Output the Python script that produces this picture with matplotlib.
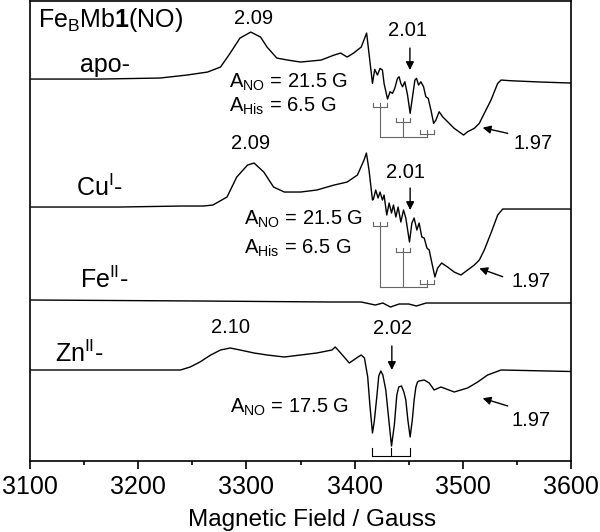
#!/usr/bin/env python3

# EPR spectra of FeBMb1(NO) derivatives

import matplotlib as mpl
mpl.use("Agg")

import matplotlib.pyplot as plt             # noqa
from matplotlib.ticker import MultipleLocator  # noqa

plt.rcParams['font.family'] = ['Liberation Sans', 'DejaVu Sans']
plt.rcParams['mathtext.fontset'] = 'custom'
plt.rcParams['mathtext.rm'] = 'Liberation Sans'
plt.rcParams['mathtext.bf'] = 'Liberation Sans:bold'

# field in Gauss, intensity in arbitrary units (relative to each baseline)
apo_field = [3101, 3165, 3220, 3245, 3264, 3276, 3285, 3294, 3304, 3313, 3319, 3328,
             3338, 3350, 3369, 3381, 3387, 3393, 3399, 3406, 3411, 3416.4,
             3418.5, 3421, 3423.4, 3425.6, 3427.1, 3430.3, 3432.7, 3434.9, 3437,
             3439.5, 3441, 3442.6, 3444.2, 3446.3, 3448.8, 3451.2, 3453.4, 3455.6,
             3457.1, 3459, 3461.1, 3463.6, 3465.7, 3467.9, 3470.4, 3472.9, 3475,
             3478, 3481.2, 3485.8, 3491.9, 3500.6, 3504.3, 3510.5, 3515.1, 3519.7,
             3525.9, 3532.1, 3535.2, 3544.4, 3572.2, 3600]
apo_int = [0, 0, 1, 4, 7, 12, 26, 41, 47, 42, 32, 21,
           19, 17, 19, 24, 26, 22, 26, 32, 46, -4.3,
           9.7, 4, 10.7, 9, -4.3, -20, -12.7, -14.3, -9.3,
           0.7, 2.3, -4.3, -7.7, -2.7, -16, -34.3, -17.7, -1,
           0.7, -6, -2.7, -7.7, -17.7, -19.3, -31, -44.3, -41,
           -32.7, -37.7, -42.7, -49.3, -56, -52.7, -49.3, -44.3, -34.3,
           -21, -4.3, -1, -1.7, -3, -4]

cu_field = [3101, 3183, 3240, 3260, 3269, 3282, 3291, 3301, 3307, 3316, 3325, 3335,
            3350, 3365, 3381, 3393, 3402.5, 3408.6, 3410.8, 3413.2, 3416.4, 3417.3,
            3419.4, 3421.6, 3423.4, 3425.6, 3427.1, 3429.6, 3431.8, 3434, 3435.8,
            3438, 3440.1, 3442.6, 3445.1, 3447.2, 3450.6, 3452.8, 3454.9, 3457.4,
            3459.5, 3462, 3464.2, 3466.7, 3468.8, 3471.3, 3474.1, 3476.6, 3480.3,
            3485.8, 3491.9, 3498.1, 3504.3, 3510.5, 3515.1, 3519.7, 3525.9, 3532.1,
            3536.7, 3544.4, 3600]
cu_int = [0, 0, 1, 1, 2, 10, 30, 42, 44, 35, 20, 15,
          15, 17, 22, 25, 32, 47, 54, 37, 7, 8,
          17, 9, 15, 7, 12, -8, 4, -6, 2,
          -10, 0, -15, -3, -11, -35, -16, -11, -23,
          -16, -30, -31, -41, -43, -56, -70, -61, -56,
          -60, -65, -68, -63, -58, -53, -43, -26, -8,
          -2, -2, -2]

fe_field = [3101, 3257, 3378, 3406, 3419, 3426, 3433, 3441, 3450, 3457, 3466, 3489, 3600]
fe_int = [2, 1, 0, 0, -3, -1, -5, -2, -2, -4, -1, -1, -1]

zn_field = [3101, 3239, 3248, 3257, 3267, 3276, 3285, 3294, 3307, 3319, 3335, 3350,
            3365, 3379, 3382, 3387, 3395, 3403, 3406, 3409, 3412, 3414, 3416.4, 3418,
            3420.4, 3422.2, 3424.1, 3426, 3428.7, 3431.5, 3434, 3436.6, 3438.9,
            3440.7, 3443.2, 3445.4, 3447.2, 3449.1, 3451.2, 3453.2, 3454.9, 3456.5,
            3458, 3459.5, 3464.2, 3468.8, 3473.4, 3479.6, 3491.9, 3504.3, 3513.6,
            3522.8, 3535.2, 3600]
zn_int = [0, 0, 3, 8, 15, 20, 22, 20, 17, 15, 13, 15,
          17, 20, 23, 17, 7, 13, 15, 12, -7, -35, -63, -52,
          -27, -6, -1, -5, -20, -50, -76, -55, -25,
          -17, -16, -22, -30, -50, -67, -50, -30, -17,
          -12, -11, -10, -13, -20, -17, -22, -18, -12,
          -5, 0, -1.5]

# hyperfine stick diagrams
A_NO_his = 21.5
A_His = 6.5
center_his = 3445
A_NO_zn = 17.5
center_zn = 3433.5


def his_bracket(ax, levels, bottom, color):
  lines = [center_his - A_NO_his, center_his, center_his + A_NO_his]
  for g, lv in zip(lines, levels):
    ax.plot([g - A_His, g + A_His], [lv, lv], color=color, lw=0.8)
    for gg in (g - A_His, g, g + A_His):
      ax.plot([gg, gg], [lv, lv + 4], color=color, lw=0.8)
    ax.plot([g, g], [lv, bottom], color=color, lw=0.8)
  ax.plot([lines[0], lines[-1]], [bottom, bottom], color=color, lw=0.8)


fig = plt.figure(figsize=(6.0, 5.32), dpi=100)
ax = fig.add_axes([0.05, 0.1335, 0.902, 0.8645])

offsets = {'apo': 382, 'cu': 254, 'fe': 159, 'zn': 91}
ax.plot(apo_field, [v + offsets['apo'] for v in apo_int], color='black', lw=1.0)
ax.plot(cu_field, [v + offsets['cu'] for v in cu_int], color='black', lw=1.0)
ax.plot(fe_field, [v + offsets['fe'] for v in fe_int], color='black', lw=1.0)
ax.plot(zn_field, [v + offsets['zn'] for v in zn_int], color='black', lw=1.0)

his_bracket(ax, [354, 339.3, 326.7], 324.3, '#666666')
his_bracket(ax, [235, 208.7, 177], 174.3, '#666666')

zl = [center_zn - A_NO_zn, center_zn, center_zn + A_NO_zn]
ax.plot([zl[0], zl[-1]], [5, 5], color='black', lw=0.8)
for g in zl:
  ax.plot([g, g], [5, 13], color='black', lw=0.8)

# labels
LBL = 18
ANN = 14.5
ax.text(3107, 434, r'Fe$_\mathregular{B}$Mb$\mathbf{1}$(NO)', fontsize=LBL, va='baseline')
ax.text(3146.3, 389, 'apo-', fontsize=LBL, va='baseline')
ax.text(3142.6, 265, r'Cu$^\mathregular{I}$-', fontsize=LBL, va='baseline')
ax.text(3146.3, 172.7, r'Fe$^\mathregular{II}$-', fontsize=LBL, va='baseline')
ax.text(3123.1, 99, r'Zn$^\mathregular{II}$-', fontsize=LBL, va='baseline')

ax.text(3306.5, 437.5, '2.09', fontsize=ANN, ha='center', va='baseline')
ax.text(3449, 425, '2.01', fontsize=ANN, ha='center', va='baseline')
ax.text(3283.6, 373.7, r'A$_\mathregular{NO}$ = 21.5 G', fontsize=ANN, va='baseline')
ax.text(3283.6, 349, r'A$_\mathregular{His}$ = 6.5 G', fontsize=ANN, va='baseline')
ax.text(3564.5, 312, '1.97', fontsize=ANN, ha='center', va='baseline')

ax.text(3303.7, 312.5, '2.09', fontsize=ANN, ha='center', va='baseline')
ax.text(3447.2, 282.7, '2.01', fontsize=ANN, ha='center', va='baseline')
ax.text(3298.1, 236, r'A$_\mathregular{NO}$ = 21.5 G', fontsize=ANN, va='baseline')
ax.text(3298.1, 207.7, r'A$_\mathregular{His}$ = 6.5 G', fontsize=ANN, va='baseline')
ax.text(3563, 174.3, '1.97', fontsize=ANN, ha='center', va='baseline')

ax.text(3285.2, 127.7, '2.10', fontsize=ANN, ha='center', va='baseline')
ax.text(3434.9, 126.7, '2.02', fontsize=ANN, ha='center', va='baseline')
ax.text(3284.5, 48.3, r'A$_\mathregular{NO}$ = 17.5 G', fontsize=ANN, va='baseline')
ax.text(3563, 35, '1.97', fontsize=ANN, ha='center', va='baseline')

arrows = [((3451, 413), (3451, 391)),
          ((3451.2, 273), (3451.2, 251)),
          ((3434.3, 115), (3434.3, 91)),
          ((3541.4, 327.7), (3518.2, 333.3)),
          ((3536.7, 184.3), (3515.1, 192.7)),
          ((3541.4, 55), (3518.2, 62.7))]
for tail, head in arrows:
  ax.annotate('', xy=head, xytext=tail,
              arrowprops=dict(arrowstyle='-|>', color='black', lw=1.0,
                              mutation_scale=12, shrinkA=0, shrinkB=0))

ax.set_xlim(3100, 3600)
ax.set_ylim(0, 460)
ax.set_yticks([])
ax.xaxis.set_major_locator(MultipleLocator(100))
ax.xaxis.set_minor_locator(MultipleLocator(50))
ax.tick_params(axis='x', which='major', direction='out', length=6, width=1.2, labelsize=18, pad=4)
ax.tick_params(axis='x', which='minor', direction='out', length=3, width=1.2)
for sp in ax.spines.values():
  sp.set_linewidth(1.2)
ax.set_xlabel('Magnetic Field / Gauss', fontsize=17.5, labelpad=2)
ax.xaxis.set_label_coords(0.522, -0.105)

plt.savefig('out.png', dpi=100)
